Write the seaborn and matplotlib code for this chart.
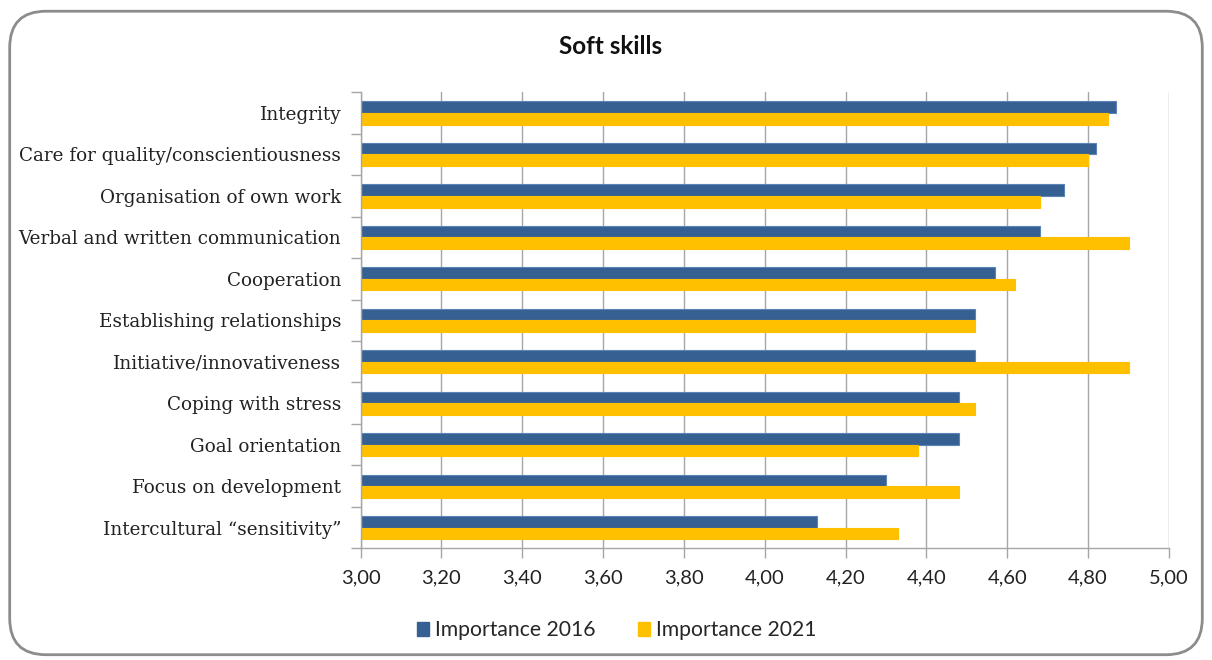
import matplotlib
matplotlib.use("Agg")
import matplotlib.pyplot as plt
import seaborn as sns
import pandas as pd
from matplotlib.patches import FancyBboxPatch, Patch
from matplotlib.ticker import FixedLocator

categories = [
    "Integrity",
    "Care for quality/conscientiousness",
    "Organisation of own work",
    "Verbal and written communication",
    "Cooperation",
    "Establishing relationships",
    "Initiative/innovativeness",
    "Coping with stress",
    "Goal orientation",
    "Focus on development",
    "Intercultural \u201csensitivity\u201d",
]
importance_2016 = [4.87, 4.82, 4.74, 4.68, 4.57, 4.52, 4.52, 4.48, 4.48, 4.30, 4.13]
importance_2021 = [4.85, 4.80, 4.68, 4.90, 4.62, 4.52, 4.90, 4.52, 4.38, 4.48, 4.33]
series_names = ["Importance 2016", "Importance 2021"]
x_ticks = [3.00, 3.20, 3.40, 3.60, 3.80, 4.00, 4.20, 4.40, 4.60, 4.80, 5.00]
title = "Soft skills"

colors = ["#376092", "#FFC000"]
edge_colors = ["#5b83b8", "#FFC000"]

df = pd.DataFrame({
    "skill": categories * 2,
    "value": importance_2016 + importance_2021,
    "series": [series_names[0]] * len(categories) + [series_names[1]] * len(categories),
})

sns.set_theme(style="white")
plt.rcParams["font.family"] = ["Lato", "DejaVu Sans"]

fig = plt.figure(figsize=(12.12, 6.6), dpi=100)
ax = fig.add_axes([0.2975, 0.1692, 0.9645 - 0.2975, 0.8602 - 0.1692])

sns.barplot(data=df, y="skill", x="value", hue="series", orient="h",
            palette=colors, width=0.56, ax=ax, legend=False, saturation=1)

for i, container in enumerate(ax.containers):
    for bar in container:
        bar.set_edgecolor(edge_colors[i])
        bar.set_linewidth(0.8)

ax.set_xlim(3.0, 5.0)
ax.set_ylim(len(categories) - 0.5, -0.5)
ax.set_xticks(x_ticks)
ax.set_xticklabels([f"{v:.2f}".replace(".", ",") for v in x_ticks],
                   fontsize=14.5, color="#222222", family=["Lato", "DejaVu Sans"])
ax.set_yticks(range(len(categories)))
ax.set_yticklabels(categories, fontsize=13.2, color="#222222",
                   family=["DejaVu Serif"])
ax.yaxis.set_minor_locator(FixedLocator([i - 0.5 for i in range(len(categories) + 1)]))
ax.tick_params(axis="y", which="major", length=0, pad=14)
ax.tick_params(axis="y", which="minor", length=7, color="#a6a6a6", width=1, left=True)
ax.tick_params(axis="x", which="major", length=7, color="#a6a6a6", width=1,
               bottom=True, pad=8)
ax.set_xlabel("")
ax.set_ylabel("")

ax.grid(axis="x", color="#a6a6a6", linewidth=1)
ax.set_axisbelow(True)
for side in ["top", "right"]:
    ax.spines[side].set_visible(False)
for side in ["left", "bottom"]:
    ax.spines[side].set_color("#a6a6a6")
    ax.spines[side].set_linewidth(1)

fig.text(0.504, 0.929, title, ha="center", va="center", fontsize=17.5,
         fontweight="bold", color="#111111", family=["Lato", "DejaVu Sans"])

handles = [Patch(facecolor=colors[i], edgecolor=colors[i]) for i in range(2)]
fig.legend(handles, series_names, loc="center", bbox_to_anchor=(0.509, 0.045),
           ncol=2, frameon=False, handlelength=0.55, handleheight=0.7,
           handletextpad=0.3, columnspacing=2.0,
           prop={"family": ["Lato", "DejaVu Sans"], "size": 15.2})

border = FancyBboxPatch((0.008, 0.008), 0.984, 0.975,
                        boxstyle="round,pad=0,rounding_size=0.03",
                        transform=fig.transFigure, facecolor="none",
                        edgecolor="#8c8c8c", linewidth=2, mutation_aspect=1212 / 660)
fig.patches.append(border)

fig.savefig("out.png", dpi=100)
